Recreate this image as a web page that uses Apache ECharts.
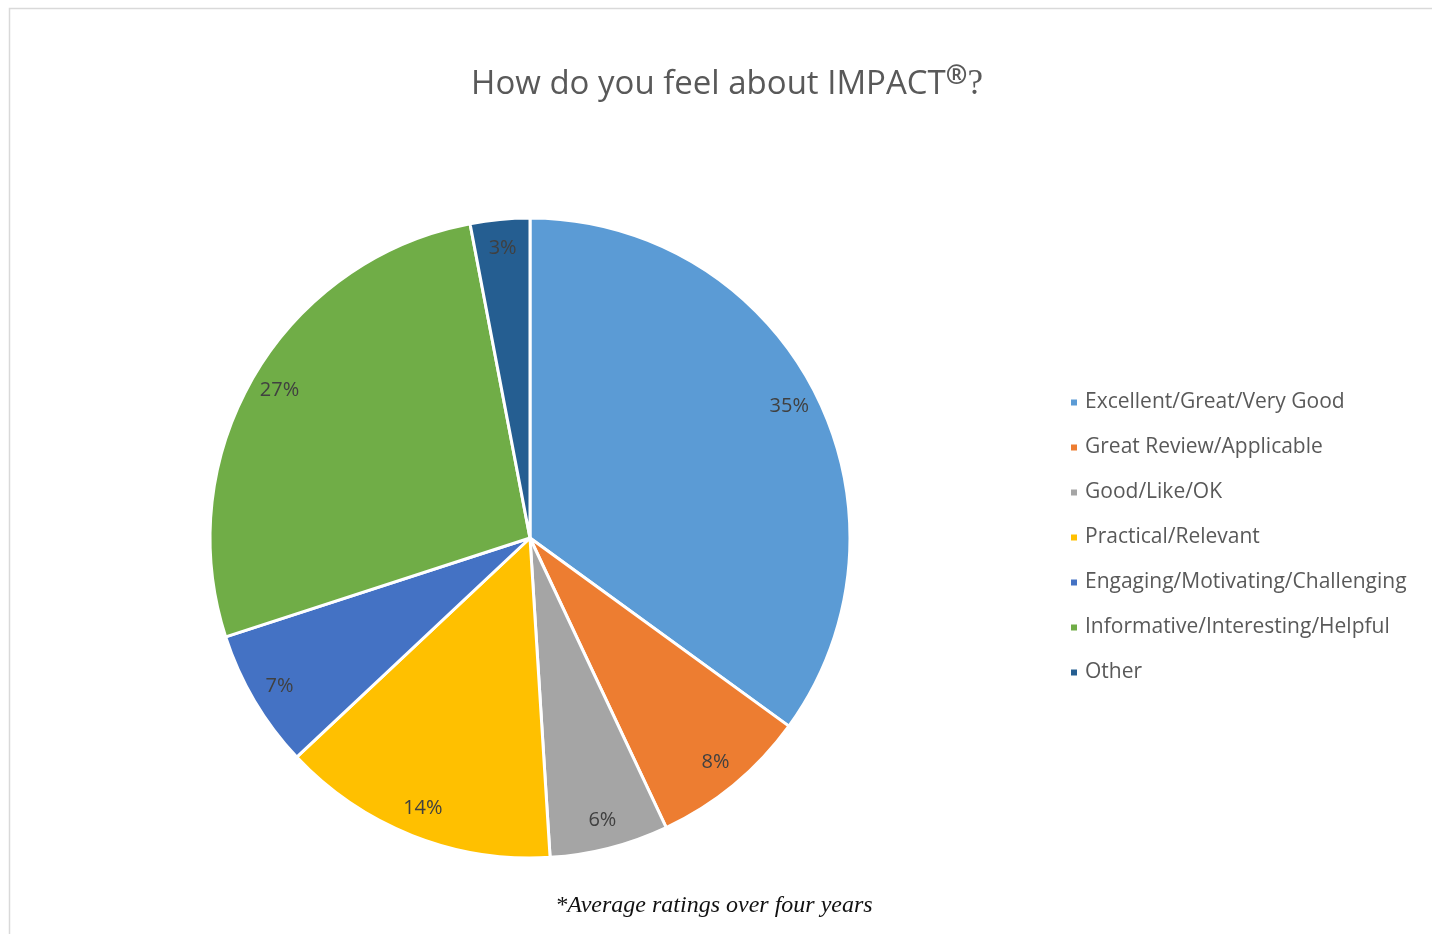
<!DOCTYPE html>
<html>
<head>
<meta charset="utf-8">
<script src="https://cdn.jsdelivr.net/npm/echarts@6/dist/echarts.min.js"></script>
<style>html,body{margin:0;padding:0;background:#fff;}#c{width:1432px;height:934px;}</style>
</head>
<body>
<div id="c"></div>
<script>
const categories = ['Excellent/Great/Very Good','Great Review/Applicable','Good/Like/OK','Practical/Relevant','Engaging/Motivating/Challenging','Informative/Interesting/Helpful','Other'];
const values = [35, 8, 6, 14, 7, 27, 3];
const colors = ['#5B9BD5','#ED7D31','#A5A5A5','#FFC000','#4472C4','#70AD47','#255E91'];

const data = categories.map((n, i) => ({ name: n, value: values[i], itemStyle: { color: colors[i] } }));
const labelData = categories.map((n, i) => ({ name: n, value: values[i] }));

const chart = echarts.init(document.getElementById('c'));
chart.setOption({
  animation: false,
  title: {
    text: 'How do you feel about IMPACT{sup|®}{q|?}',
    left: 722, top: 59, textAlign: 'center',
    textStyle: {
      fontFamily: 'Open Sans', fontSize: 33, fontWeight: 'normal', color: '#595959',
      rich: {
        sup: { fontFamily: 'Open Sans', fontSize: 26, fontWeight: 'bold', color: '#595959', verticalAlign: 'top', padding: [0,0,16,0] },
        q: { fontFamily: 'Liberation Serif', fontSize: 35, color: '#595959' }
      }
    }
  },
  legend: {
    orient: 'vertical', left: 1064, top: 387,
    itemWidth: 8, itemHeight: 8, itemGap: 24, icon: 'rect',
    data: categories,
    textStyle: { fontFamily: 'Open Sans', fontSize: 21, color: '#595959', padding: [0,0,0,2] }
  },
  graphic: [
    { type: 'rect', shape: { x: 9.5, y: 8.5, width: 1440, height: 940 }, style: { fill: 'none', stroke: '#d9d9d9', lineWidth: 1.5 }, silent: true },
    { type: 'text', style: { text: '*Average ratings over four years', font: 'italic 24px "Liberation Serif"', fill: '#111', textAlign: 'center' }, position: [714, 894] }
  ],
  series: [
    {
      type: 'pie', center: [530, 538], radius: [0, 320], startAngle: 90, clockwise: true,
      data: data,
      itemStyle: { borderColor: '#fff', borderWidth: 3 },
      label: { show: false }, labelLine: { show: false }, emphasis: { disabled: true }, silent: true
    },
    {
      type: 'pie', center: [530, 538], radius: [256, 320], startAngle: 90, clockwise: true,
      data: labelData,
      itemStyle: { color: 'transparent', borderWidth: 0 },
      label: { show: true, position: 'inside', formatter: '{c}%', fontFamily: 'Open Sans', fontSize: 20, color: '#404040' },
      labelLine: { show: false }, emphasis: { disabled: true }, silent: true, legendHoverLink: false
    }
  ]
});
</script>
</body>
</html>
